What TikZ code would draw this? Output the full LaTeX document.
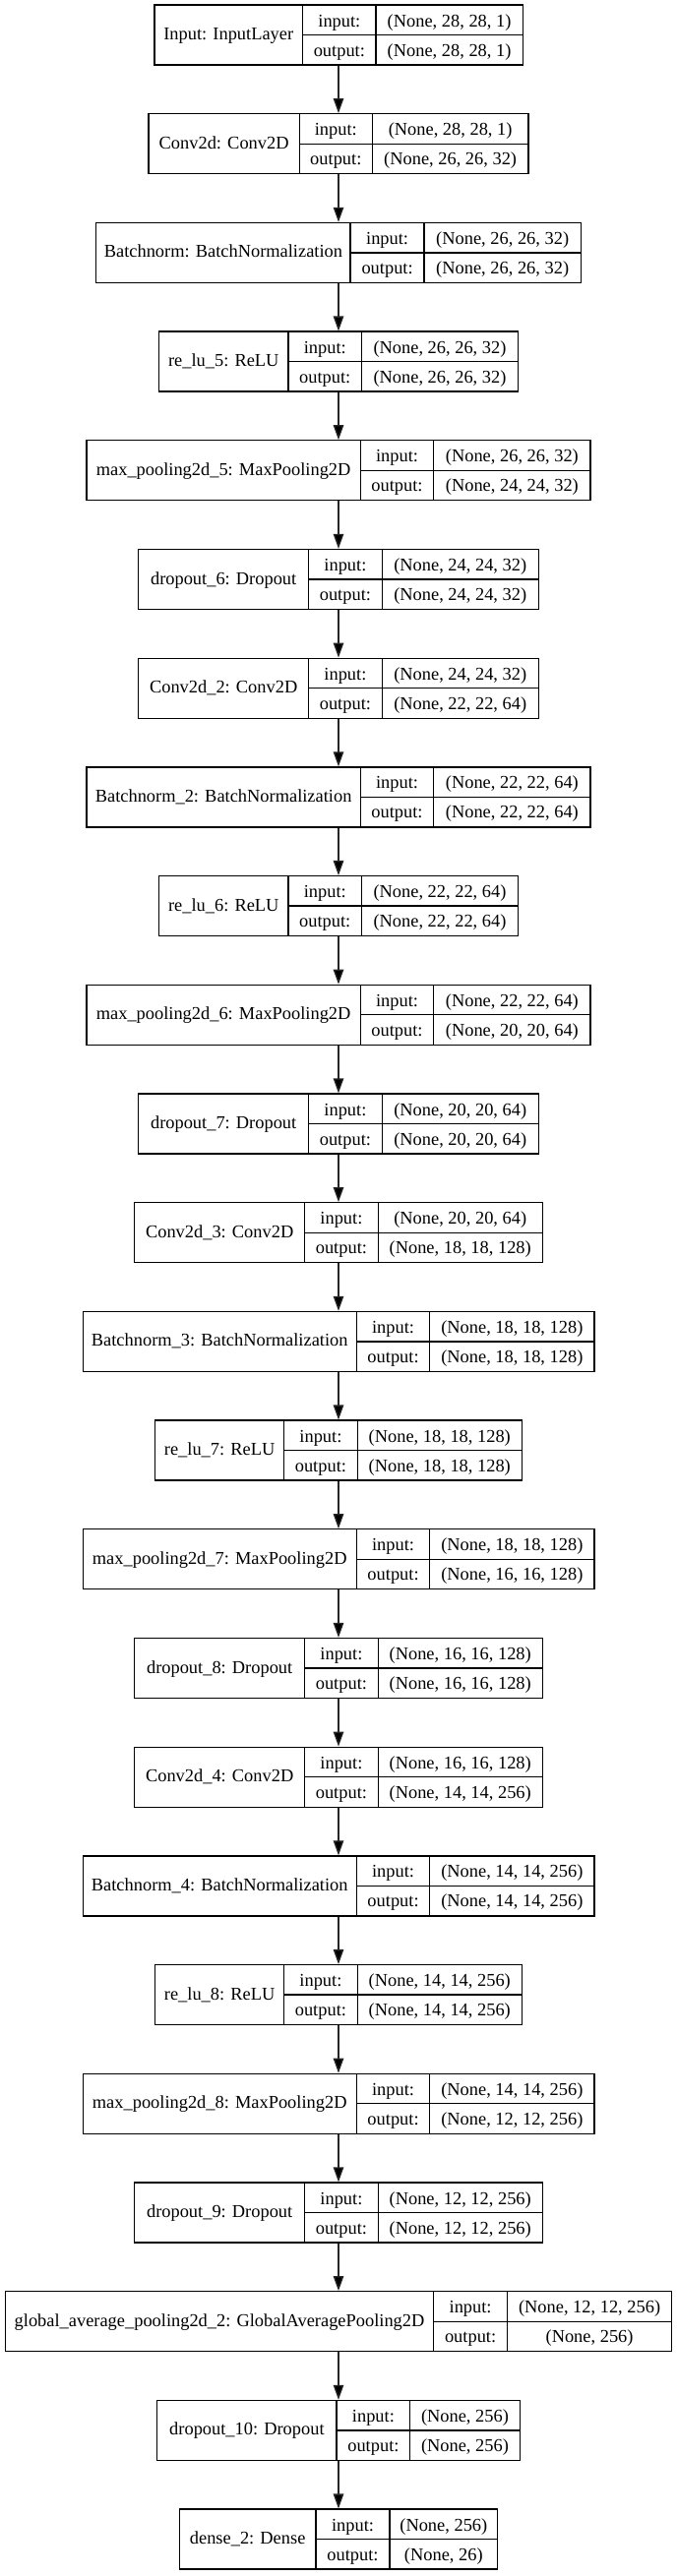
\documentclass[tikz,border=0pt]{standalone}
\usepackage{fontspec}
\setmainfont{Liberation Serif}
\usetikzlibrary{arrows.meta}
\tikzset{
  box/.style={draw=black, line width=1.3pt, inner sep=0pt, fill=white},
  ln/.style={draw=black, line width=1.3pt},
  txt/.style={inner sep=0pt, anchor=base, font=\fontsize{18.4}{21}\selectfont},
  arr/.style={draw=black!85, line width=1.3pt, -{Triangle[length=15pt,width=10.5pt,fill=black]}}
}
\newcommand\kerasLayer[9]{%
  \pgfmathsetmacro\lT{5+(#1-1)*110.7}%
  \pgfmathsetmacro\lB{\lT+61}%
  \pgfmathsetmacro\lM{\lT+30.5}%
  \pgfmathsetmacro\lW{#6-#3}%
  \pgfmathsetmacro\lL{344-\lW/2}%
  \pgfmathsetmacro\lR{344+\lW/2}%
  \node[box, minimum width=\lW pt, minimum height=61pt] (#2) at (344,\lM) {};
  \draw[ln] (#4,\lT) -- (#4,\lB);
  \draw[ln] (#5,\lT) -- (#5,\lB);
  \draw[ln] (#4,\lM) -- (\lR,\lM);
  \node[txt] (#2-name) at ({(\lL+#4)/2},{\lT+35.5}) {#7};
  \node[txt] (#2-il) at ({(#4+#5)/2},{\lT+22}) {input:};
  \node[txt] (#2-ol) at ({(#4+#5)/2},{\lT+52}) {output:};
  \node[txt] (#2-iv) at ({(#5+\lR)/2},{\lT+22}) {#8};
  \node[txt] (#2-ov) at ({(#5+\lR)/2},{\lT+52}) {#9};
}
\begin{document}
\begin{tikzpicture}[x=1pt,y=-1pt]
\fill[white] (0,0) rectangle (688,2619);
\useasboundingbox (0,0) rectangle (688,2619);
\kerasLayer{1}{L1}{156.7}{307.7}{382}{531}{Input: InputLayer}{(None, 28, 28, 1)}{(None, 28, 28, 1)}
\kerasLayer{2}{L2}{151.7}{304.3}{378.3}{537.7}{Conv2d: Conv2D}{(None, 28, 28, 1)}{(None, 26, 26, 32)}
\kerasLayer{3}{L3}{97.4}{356.1}{431.1}{589.9}{Batchnorm: BatchNormalization}{(None, 26, 26, 32)}{(None, 26, 26, 32)}
\kerasLayer{4}{L4}{161.4}{293}{367.5}{526.3}{re\_lu\_5: ReLU}{(None, 26, 26, 32)}{(None, 26, 26, 32)}
\kerasLayer{5}{L5}{87.7}{366.2}{440.8}{599.6}{max\_pooling2d\_5: MaxPooling2D}{(None, 26, 26, 32)}{(None, 24, 24, 32)}
\kerasLayer{6}{L6}{140.4}{313.6}{388.2}{546.9}{dropout\_6: Dropout}{(None, 24, 24, 32)}{(None, 24, 24, 32)}
\kerasLayer{7}{L7}{140.4}{313.6}{388.2}{546.9}{Conv2d\_2: Conv2D}{(None, 24, 24, 32)}{(None, 22, 22, 64)}
\kerasLayer{8}{L8}{87.7}{366.2}{440.8}{599.6}{Batchnorm\_2: BatchNormalization}{(None, 22, 22, 64)}{(None, 22, 22, 64)}
\kerasLayer{9}{L9}{161.4}{293}{367.5}{526.3}{re\_lu\_6: ReLU}{(None, 22, 22, 64)}{(None, 22, 22, 64)}
\kerasLayer{10}{L10}{87.7}{366.2}{440.8}{599.6}{max\_pooling2d\_6: MaxPooling2D}{(None, 22, 22, 64)}{(None, 20, 20, 64)}
\kerasLayer{11}{L11}{140.4}{313.6}{388.2}{546.9}{dropout\_7: Dropout}{(None, 20, 20, 64)}{(None, 20, 20, 64)}
\kerasLayer{12}{L12}{136.4}{309.6}{384.2}{550.9}{Conv2d\_3: Conv2D}{(None, 20, 20, 64)}{(None, 18, 18, 128)}
\kerasLayer{13}{L13}{83.8}{362.3}{436.8}{603.5}{Batchnorm\_3: BatchNormalization}{(None, 18, 18, 128)}{(None, 18, 18, 128)}
\kerasLayer{14}{L14}{157}{288.6}{363.2}{529.8}{re\_lu\_7: ReLU}{(None, 18, 18, 128)}{(None, 18, 18, 128)}
\kerasLayer{15}{L15}{83.8}{362.3}{436.8}{603.5}{max\_pooling2d\_7: MaxPooling2D}{(None, 18, 18, 128)}{(None, 16, 16, 128)}
\kerasLayer{16}{L16}{136.4}{309.6}{384.2}{550.9}{dropout\_8: Dropout}{(None, 16, 16, 128)}{(None, 16, 16, 128)}
\kerasLayer{17}{L17}{136.4}{309.6}{384.2}{550.9}{Conv2d\_4: Conv2D}{(None, 16, 16, 128)}{(None, 14, 14, 256)}
\kerasLayer{18}{L18}{83.8}{362.3}{436.8}{603.5}{Batchnorm\_4: BatchNormalization}{(None, 14, 14, 256)}{(None, 14, 14, 256)}
\kerasLayer{19}{L19}{157}{288.6}{363.2}{529.8}{re\_lu\_8: ReLU}{(None, 14, 14, 256)}{(None, 14, 14, 256)}
\kerasLayer{20}{L20}{83.8}{362.3}{436.8}{603.5}{max\_pooling2d\_8: MaxPooling2D}{(None, 14, 14, 256)}{(None, 12, 12, 256)}
\kerasLayer{21}{L21}{136.4}{309.6}{384.2}{550.9}{dropout\_9: Dropout}{(None, 12, 12, 256)}{(None, 12, 12, 256)}
\kerasLayer{22}{L22}{5}{440.8}{515.4}{682.5}{global\_average\_pooling2d\_2: GlobalAveragePooling2D}{(None, 12, 12, 256)}{(None, 256)}
\kerasLayer{23}{L23}{159.2}{342.1}{416.7}{527.6}{dropout\_10: Dropout}{(None, 256)}{(None, 256)}
\kerasLayer{24}{L24}{182.7}{321}{396}{506}{dense\_2: Dense}{(None, 256)}{(None, 26)}
\foreach \i [evaluate=\i as \j using int(\i+1)] in {1,...,23}
  \draw[arr] (L\i.south) -- (L\j.north);
\end{tikzpicture}
\end{document}
